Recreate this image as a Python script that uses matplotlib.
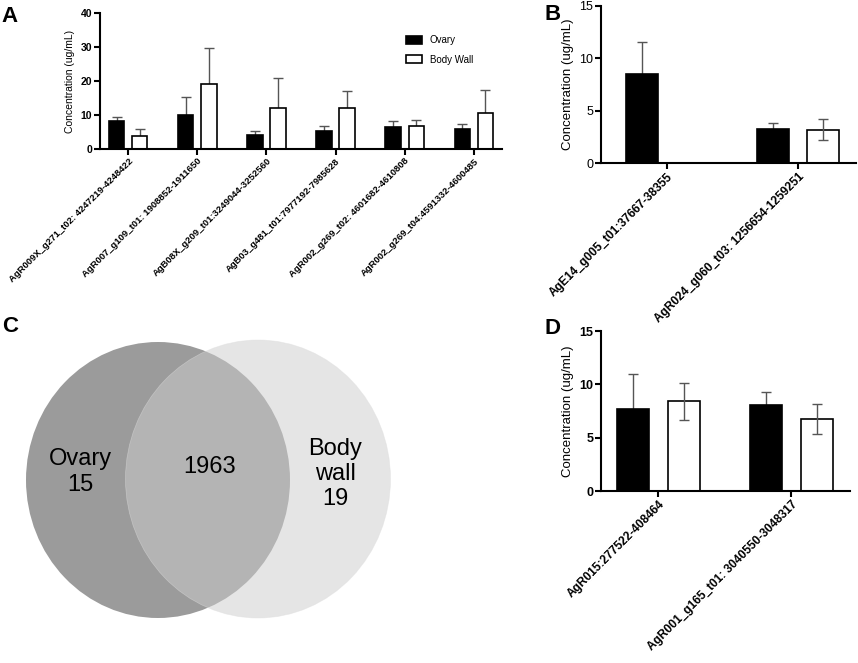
import numpy as np
import matplotlib
matplotlib.use("Agg")
import matplotlib.pyplot as plt
from matplotlib.patches import Ellipse

plt.rcParams['font.family'] = ['Liberation Sans', 'DejaVu Sans']

# panel A
a_labels = ["AgR009X_g271_t02: 4247219-4248422", "AgR007_g109_t01: 1908852-1911650",
            "AgB08X_g209_t01:3249044-3252560", "AgB03_g481_t01:7977192-7985628",
            "AgR002_g269_t02: 4601682-4610808", "AgR002_g269_t04:4591332-4600485"]
a_ovary = [8.3, 10.1, 4.1, 5.4, 6.6, 6.0]
a_ovary_err = [1.1, 5.3, 1.1, 1.3, 1.6, 1.4]
a_wall = [3.8, 19.2, 12.0, 12.2, 6.7, 10.7]
a_wall_err = [2.0, 10.5, 9.0, 4.8, 1.7, 6.6]

# panel B
b_labels = ["AgE14_g005_t01:37667-38355", "AgR024_g060_t03: 1256654-1259251"]
b_ovary = [8.55, 3.28]
b_ovary_err = [3.05, 0.5]
b_wall = [0.0, 3.2]
b_wall_err = [0.0, 0.97]

# panel D
d_labels = ["AgR015:277522-408464", "AgR001_g165_t01: 3040550-3048317"]
d_ovary = [7.7, 8.1]
d_ovary_err = [3.27, 1.22]
d_wall = [8.4, 6.75]
d_wall_err = [1.72, 1.42]

# panel C (venn)
venn_ovary_only = 15
venn_shared = 1963
venn_wall_only = 19

W, H = 858, 663
fig = plt.figure(figsize=(W / 100, H / 100), dpi=100)


def px_axes(left, top, right, bottom):
    return fig.add_axes([left / W, 1 - bottom / H, (right - left) / W, (bottom - top) / H])


def bar_panel(ax, labels, ov, ov_err, wa, wa_err, width, off, ymax, yticks,
              lab_fs, tick_fs, ylab_fs, tick_bold, wall_err_on_top, xlim):
    x = np.arange(len(labels))
    err_kw = dict(fmt="none", ecolor="#555555", elinewidth=1.0, capsize=3.5, capthick=1.0)
    wa = np.array(wa)
    mask = wa > 0
    ax.bar(x - off, ov, width, color="black", edgecolor="black", lw=1.2, label="Ovary", zorder=2)
    ax.bar(x[mask] + off, wa[mask], width, color="white", edgecolor="black", lw=1.2,
           label="Body Wall", zorder=2)
    # whiskers under the bars so only the upper half shows, except where it shows in the white bar
    ax.errorbar(x - off, ov, yerr=ov_err, zorder=1, **err_kw)
    ax.errorbar(x[mask] + off, wa[mask], yerr=np.array(wa_err)[mask],
                zorder=3 if wall_err_on_top else 1, **err_kw)
    ax.set_xlim(*xlim)
    ax.set_ylim(0, ymax)
    ax.set_yticks(yticks)
    ax.set_xticks(x)
    ax.set_xticklabels(labels, rotation=45, ha="right", rotation_mode="anchor",
                       fontsize=lab_fs, fontweight="bold")
    for t in ax.get_yticklabels():
        t.set_fontsize(tick_fs)
        t.set_fontweight("bold" if tick_bold else "normal")
    ax.spines["top"].set_visible(False)
    ax.spines["right"].set_visible(False)
    ax.spines["left"].set_linewidth(1.5)
    ax.spines["bottom"].set_linewidth(1.5)
    ax.spines["left"].set_zorder(4)
    ax.spines["bottom"].set_zorder(4)
    ax.tick_params(axis="both", width=1.5, length=4, pad=1.5)
    ax.set_ylabel("Concentration (ug/mL)", fontsize=ylab_fs, labelpad=4)
    return ax


axA = px_axes(100, 13, 502, 149)
bar_panel(axA, a_labels, a_ovary, a_ovary_err, a_wall, a_wall_err, 0.22, 0.167, 40,
          [0, 10, 20, 30, 40], 6.8, 7.5, 7.5, True, False, (-0.41, 5.41))
axA.legend(loc="upper left", bbox_to_anchor=(0.74, 0.90), frameon=False, fontsize=7,
           handlelength=1.6, handleheight=0.9, labelspacing=0.95)

axB = px_axes(601, 6, 856, 163)
bar_panel(axB, b_labels, b_ovary, b_ovary_err, b_wall, b_wall_err, 0.245, 0.19, 15,
          [0, 5, 10, 15], 8.6, 9, 9.5, False, True, (-0.5, 1.44))

axD = px_axes(601, 331, 850, 491)
bar_panel(axD, d_labels, d_ovary, d_ovary_err, d_wall, d_wall_err, 0.24, 0.19, 15,
          [0, 5, 10, 15], 8.6, 9, 9.5, True, True, (-0.43, 1.44))

# venn diagram in pixel coordinates
axC = fig.add_axes([0, 0, 1, 1], zorder=-1)
axC.set_xlim(0, W)
axC.set_ylim(H, 0)
axC.axis("off")
axC.add_patch(Ellipse((158, 480), 264, 276, facecolor="#9b9b9b", edgecolor="none"))
axC.add_patch(Ellipse((258, 479), 265, 278, facecolor=(205 / 255, 205 / 255, 205 / 255),
                      alpha=0.5, edgecolor="#dddddd", lw=0.5))
axC.text(80, 472, f"Ovary\n{venn_ovary_only}", ha="center", va="center", fontsize=17,
         linespacing=1.2)
axC.text(210, 467, str(venn_shared), ha="center", va="center", fontsize=17)
axC.text(335, 474, f"Body\nwall\n{venn_wall_only}", ha="center", va="center", fontsize=17,
         linespacing=1.2)

# panel letters
for s, x, y in [("A", 10, 16), ("B", 553, 14), ("C", 10, 327), ("D", 552, 328)]:
    fig.text(x / W, 1 - y / H, s, fontsize=16, fontweight="bold", ha="center", va="center")

fig.savefig("out.png", dpi=100)
